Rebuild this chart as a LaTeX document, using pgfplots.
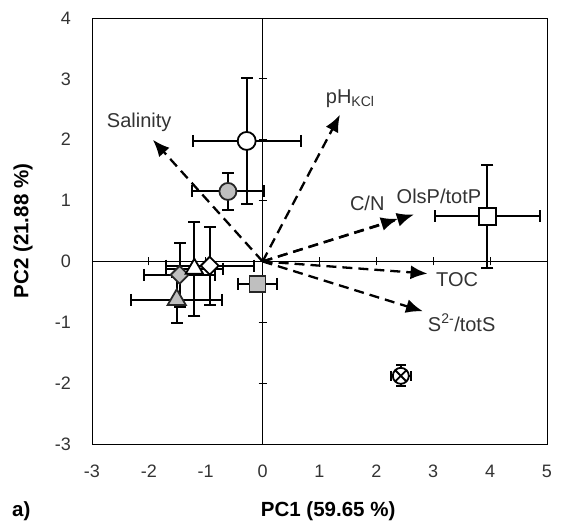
\documentclass[border=0pt]{standalone}
\usepackage{pgfplots}
\pgfplotsset{compat=1.18}
\usepackage{fontspec}
\setmainfont{Liberation Sans}
\usetikzlibrary{arrows.meta}
\definecolor{markgray}{HTML}{BFBFBF}
\pgfplotsset{
  hbar/.style={line width=2pt, black, solid, mark=|, mark size=6pt, mark options={solid, line width=2pt, black}},
  vbar/.style={line width=2pt, black, solid, mark=-, mark size=6pt, mark options={solid, line width=2pt, black}},
  vec/.style={line width=2.3pt, black, dash pattern=on 10pt off 6pt, -{Latex[length=17pt,width=14pt]}},
  wpt/.style={only marks, mark options={solid, fill=white, draw=black, line width=1.8pt}},
  gpt/.style={only marks, mark options={solid, fill=markgray, draw=black!85, line width=1.8pt}},
  wdia/.style={only marks, mark options={solid, rotate=45, fill=white, draw=black, line width=1.8pt}},
  gdia/.style={only marks, mark options={solid, rotate=45, fill=markgray, draw=black!85, line width=1.8pt}},
}
\begin{document}
\begin{tikzpicture}
\useasboundingbox (-92pt,-81pt) rectangle (474pt,444pt);
% zero lines with tick marks
\begin{axis}[at={(0,0)},anchor=south west, width=455pt,height=426pt,scale only axis,
  xmin=-3,xmax=5,ymin=-3,ymax=4, axis lines=middle,
  axis line style={-, line width=0.8pt},
  xtick={-3,...,5}, ytick={-3,...,4}, xticklabels={}, yticklabels={},
  major tick length=8pt, tick align=center, tick style={line width=0.8pt, black}]
\end{axis}
\begin{axis}[at={(0,0)},anchor=south west, width=455pt,height=426pt,scale only axis,
  xmin=-3,xmax=5,ymin=-3,ymax=4,
  axis line style={line width=0.8pt},
  xtick={-3,...,5}, ytick={-3,...,4},
  xticklabels={-3,-2,-1,0,1,2,3,4,5}, yticklabels={-3,-2,-1,0,1,2,3,4},
  major tick length=0pt,
  tick label style={font=\fontsize{18}{20}\selectfont, text=black!80, inner sep=0pt},
  xticklabel shift=21pt, yticklabel shift=21pt,
  xlabel={PC1 (59.65 \%)}, ylabel={PC2 (21.88 \%)},
  label style={font=\fontsize{20.5}{24}\selectfont\bfseries},
  xlabel style={at={(axis description cs:0.519,-0.171)}, anchor=base},
  ylabel style={at={(axis description cs:-0.1516,0.5)}, anchor=center},
  clip=false]
% loading vectors
\addplot[vec] coordinates {(0,0) (-1.93,2.0)};
\addplot[vec] coordinates {(0,0) (1.36,2.41)};
\addplot[vec] coordinates {(0,0) (2.38,0.70)};
\addplot[vec] coordinates {(0,0) (2.66,0.77)};
\addplot[vec] coordinates {(0,0) (2.90,-0.20)};
\addplot[vec] coordinates {(0,0) (2.82,-0.82)};
% vector labels
\begin{scope}[every node/.style={font=\fontsize{20}{22}\selectfont, text=black!80, inner sep=0pt}]
\node at (axis cs:-2.17,2.29) {Salinity};
\node at (axis cs:1.54,2.68) {pH\textsubscript{KCl}};
\node at (axis cs:1.84,0.96) {C/N};
\node at (axis cs:3.10,1.07) {OlsP/totP};
\node at (axis cs:3.42,-0.30) {TOC};
\node at (axis cs:3.50,-1.01) {S\textsuperscript{2-}/totS};
\end{scope}
% white circle: (-0.28 +- 0.95, 1.98 +- 1.03)
\addplot[hbar] coordinates {(-1.23,1.98) (0.67,1.98)};
\addplot[vbar] coordinates {(-0.28,0.95) (-0.28,3.01)};
\addplot[wpt, mark=*, mark size=9pt] coordinates {(-0.28,1.98)};
% grey circle
\addplot[hbar] coordinates {(-1.24,1.15) (0.02,1.15)};
\addplot[vbar] coordinates {(-0.61,0.85) (-0.61,1.45)};
\addplot[gpt, mark=*, mark size=8.5pt] coordinates {(-0.61,1.15)};
% grey square
\addplot[hbar] coordinates {(-0.43,-0.37) (0.25,-0.37)};
\addplot[gpt, mark=square*, mark size=8pt] coordinates {(-0.09,-0.37)};
% grey diamond
\addplot[hbar] coordinates {(-2.08,-0.22) (-0.84,-0.22)};
\addplot[vbar] coordinates {(-1.46,-0.75) (-1.46,0.31)};
% grey triangle
\addplot[hbar] coordinates {(-2.31,-0.63) (-0.71,-0.63)};
\addplot[vbar] coordinates {(-1.51,-1.01) (-1.51,-0.25)};
% white triangle
\addplot[hbar] coordinates {(-1.70,-0.12) (-0.70,-0.12)};
\addplot[vbar] coordinates {(-1.20,-0.89) (-1.20,0.65)};
% white diamond
\addplot[hbar] coordinates {(-1.70,-0.07) (-0.16,-0.07)};
\addplot[vbar] coordinates {(-0.93,-0.71) (-0.93,0.57)};
\addplot[gdia, mark=square*, mark size=6.3pt] coordinates {(-1.46,-0.22)};
\addplot[gpt, mark=triangle*, mark size=10.5pt] coordinates {(-1.51,-0.63)};
\addplot[wdia, mark=square*, mark size=6.3pt] coordinates {(-0.93,-0.07)};
\addplot[wpt, mark=triangle*, mark size=10pt] coordinates {(-1.20,-0.12)};
% white square
\addplot[hbar] coordinates {(3.03,0.74) (4.87,0.74)};
\addplot[vbar] coordinates {(3.95,-0.10) (3.95,1.58)};
\addplot[wpt, mark=square*, mark size=8.5pt] coordinates {(3.95,0.74)};
% crossed circle
\addplot[hbar, mark size=5pt] coordinates {(2.25,-1.88) (2.61,-1.88)};
\addplot[vbar, mark size=5pt] coordinates {(2.43,-2.05) (2.43,-1.71)};
\addplot[wpt, mark=otimes*, mark size=8pt] coordinates {(2.43,-1.88)};
\node[anchor=base west, font=\fontsize{20.5}{24}\selectfont\bfseries, inner sep=0pt] at (axis description cs:-0.176,-0.171) {a)};
\end{axis}
\end{tikzpicture}
\end{document}
